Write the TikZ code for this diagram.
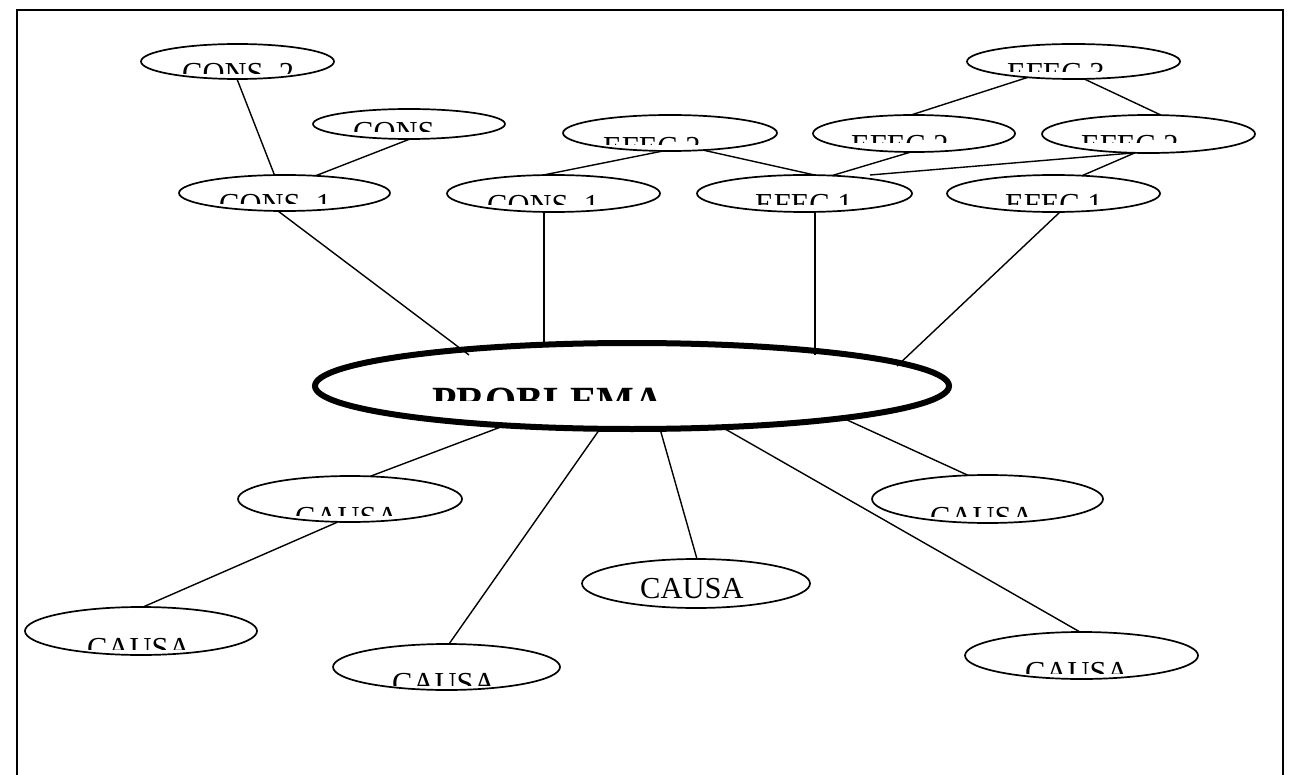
\documentclass[tikz,border=0pt]{standalone}
\usepackage{fontspec}
\setmainfont{Liberation Serif}
\usetikzlibrary{shapes.geometric,calc}

% \bubblenode{name}{cx}{cy}{rx}{ry}{text x}{baseline}{cut line}{text}
% draws an outlined ellipse and its label, the label cut off below the given line
\newcommand\bubblenode[9]{%
  \node[bubble, minimum width={2*#4}, minimum height={2*#5}] (#1) at (#2,#3) {};
  \begin{scope}
    \clip ({#2-#4},{#3-#5}) rectangle ({#2+#4},#8);
    \node[word] (#1-text) at (#6,#7) {#9};
  \end{scope}}

% point at an offset from a node's centre
\newcommand\at[3]{($(#1)+(#2,#3)$)}

\begin{document}
\begin{tikzpicture}[x=1pt,y=-1pt,
  bubble/.style={draw, ellipse, line width=1.7pt, inner sep=0pt, outer sep=0pt},
  link/.style={line width=1.4pt},
  word/.style={inner sep=0pt, anchor=base west, font=\fontsize{30.5}{36}\selectfont}
]
\useasboundingbox (0,0) rectangle (1300,775);
\draw[line width=1.5pt] (17,10) rectangle (1283,800);

% consequences
\bubblenode{cons2}{237.5}{61.5}{96.5}{17.5}{182}{83.5}{74}{CONS. 2}
\bubblenode{cons3}{409}{124}{96}{15}{353}{142.5}{132}{CONS}
\bubblenode{consL}{284.5}{193}{105.5}{18}{219}{214.5}{204}{CONS. 1}
\bubblenode{consM}{553.5}{193.5}{106.5}{18.5}{487}{215.5}{205}{CONS. 1}

% effects
\bubblenode{efecM2}{670}{133}{107}{18}{603}{157.5}{145}{EFEC 2}
\bubblenode{efec3}{1073.5}{61.5}{106.5}{17.5}{1007}{83.5}{72}{EFEC 3}
\bubblenode{efecA2}{914}{133.5}{101}{18.5}{851}{155.5}{143}{EFEC 2}
\bubblenode{efecB2}{1148.5}{134}{106.5}{19}{1081}{155.5}{143}{EFEC 2}
\bubblenode{efecA1}{804.5}{193.5}{107.5}{18.5}{755}{214.5}{205}{EFEC 1}
\bubblenode{efecB1}{1053.5}{193.5}{106.5}{18.5}{1005}{214.5}{205}{EFEC 1}

% central problem
\node[draw, ellipse, line width=6pt, inner sep=0pt, outer sep=0pt,
      minimum width=634, minimum height=86] (problema) at (632,386) {};
\begin{scope}
  \clip (315,343) rectangle (949,400);
  \node[word, font=\bfseries\fontsize{40}{48}\selectfont] (problema-text) at (432,414.5) {PROBLEMA};
\end{scope}

% causes
\bubblenode{causaLU}{350}{499}{112}{23}{295}{527.5}{515}{CAUSA}
\bubblenode{causaR}{987.5}{499}{115.5}{24}{930}{527.5}{516}{CAUSA}
\bubblenode{causaC}{696}{583.5}{114}{24.5}{640}{598}{610}{CAUSA}
\bubblenode{causaBL}{141}{631}{116}{24}{87}{658.5}{649}{CAUSA}
\bubblenode{causaBM}{446.5}{667}{113.5}{23}{392}{693.5}{685}{CAUSA}
\bubblenode{causaBR}{1081.5}{655.5}{116.5}{23.5}{1025}{682.5}{673}{CAUSA}

\coordinate (efecLink) at (870,175);

% connectors, upper half
\draw[link] \at{cons2}{-0.5}{17.5} -- \at{consL}{-10}{-17.9};
\draw[link] \at{cons3}{1}{15} -- \at{consL}{31}{-17.2};
\draw[link] \at{consL}{-6.5}{18} -- \at{problema}{-163}{-31};
\draw[link] \at{efecM2}{-7}{18} -- \at{consM}{-10.5}{-18.4};
\draw[link] \at{efecM2}{33}{17.1} -- \at{efecA1}{10.5}{-18.4};
\draw[link] \at{consM}{-9.5}{18.4} -- \at{problema}{-88}{-41.3};
\draw[link] \at{efec3}{-45.5}{15.8} -- \at{efecA2}{-3}{-18.5};
\draw[link] \at{efec3}{10.5}{17.4} -- \at{efecB2}{12.5}{-18.9};
\draw[link] \at{efecA2}{-3}{18.5} -- \at{efecA1}{27.5}{-17.9};
\draw[link] \at{efecB2}{-13.5}{18.8} -- (efecLink);
\draw[link] \at{efecB2}{-13.5}{18.8} -- \at{efecB1}{28.5}{-17.8};
\draw[link] \at{efecA1}{10.5}{18.4} -- \at{problema}{183}{-31};
\draw[link] \at{efecB1}{6.5}{18.5} -- \at{problema}{265}{-20};

% connectors, lower half
\draw[link] \at{problema}{-127}{39.4} -- \at{causaLU}{20}{-22.6};
\draw[link] \at{causaLU}{-12}{22.9} -- \at{causaBL}{2}{-24};
\draw[link] \at{problema}{-32}{42.8} -- \at{causaBM}{2.5}{-23};
\draw[link] \at{problema}{28}{42.8} -- \at{causaC}{1}{-24.5};
\draw[link] \at{problema}{90}{41.2} -- \at{causaBR}{-1.5}{-23.5};
\draw[link] \at{problema}{211}{32.1} -- \at{causaR}{-19.5}{-23.7};
\end{tikzpicture}
\end{document}
